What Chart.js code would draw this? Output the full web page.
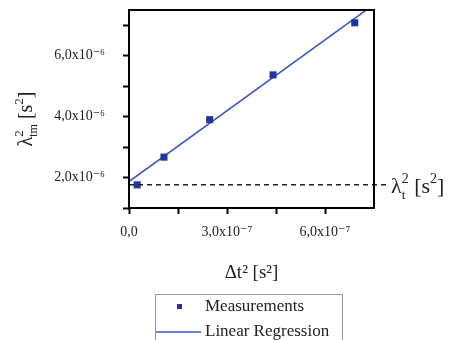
<!DOCTYPE html>
<html>
<head>
<meta charset="utf-8">
<script src="https://cdn.jsdelivr.net/npm/chart.js@4.4.0/dist/chart.umd.min.js"></script>
<style>
  body { margin: 0; background: #fff; }
  canvas { display: block; }
</style>
</head>
<body>
<canvas id="myChart" width="472" height="340"></canvas>
<script>
const measX = [2.5e-8, 1.07e-7, 2.47e-7, 4.41e-7, 6.91e-7];
const measY = [1.76e-6, 2.67e-6, 3.90e-6, 5.37e-6, 7.08e-6];
// regression line end points
const fitX = [0, 7.24e-7];
const fitY = [1.87e-6, 7.48e-6];
// dashed level lambda_t^2
const lambdaT2 = 1.76e-6;

const xTickValues = [0, 1.5e-7, 3e-7, 4.5e-7, 6e-7];
const xTickLabels = ['0,0', '', '3,0x10⁻⁷', '', '6,0x10⁻⁷'];
const yTickValues = [1e-6, 2e-6, 3e-6, 4e-6, 5e-6, 6e-6, 7e-6];
const yTickLabels = ['', '2,0x10⁻⁶', '', '4,0x10⁻⁶', '', '6,0x10⁻⁶', ''];

const FONT = '"Liberation Serif", "DejaVu Serif", serif';
const markColor = '#22359e';
const lineColor = '#4356c4';

function drawRich (ctx, parts, x, y, doDraw) {
  let cx = x, hold = 0;
  parts.forEach((p) => {
    ctx.font = p.size + 'px ' + FONT;
    const w = ctx.measureText(p.text).width;
    if (doDraw) ctx.fillText(p.text, cx, y + (p.dy || 0));
    if (p.stack) {
      hold = Math.max(hold, w);
    } else {
      cx += Math.max(w, hold);
      hold = 0;
    }
  });
  return cx - x;
}

const extras = {
  id: 'extras',
  afterDatasetsDraw (chart) {
    const ctx = chart.ctx;
    const a = chart.chartArea;
    const yS = chart.scales.y;
    ctx.save();
    // dashed lambda_t^2 line, runs past the frame
    const yy = yS.getPixelForValue(lambdaT2);
    ctx.strokeStyle = '#222';
    ctx.lineWidth = 1.5;
    ctx.setLineDash([5, 4]);
    ctx.beginPath();
    ctx.moveTo(a.left, yy);
    ctx.lineTo(a.right + 14, yy);
    ctx.stroke();
    ctx.setLineDash([]);
    // frame
    ctx.strokeStyle = '#000';
    ctx.lineWidth = 2;
    ctx.strokeRect(a.left, a.top, a.right - a.left, a.bottom - a.top);
    ctx.restore();
  },
  afterDraw (chart) {
    const ctx = chart.ctx;
    const a = chart.chartArea;
    const yS = chart.scales.y;
    ctx.save();
    ctx.fillStyle = '#222';
    ctx.textBaseline = 'alphabetic';
    ctx.textAlign = 'left';

    // label at end of dashed line
    const yy = yS.getPixelForValue(lambdaT2);
    drawRich(ctx, [
      { text: 'λ', size: 22 },
      { text: 't', size: 13, dy: 6, stack: true },
      { text: '2', size: 14, dy: -10 },
      { text: ' [s', size: 22 },
      { text: '2', size: 14, dy: -10 },
      { text: ']', size: 22 }
    ], a.right + 17, yy + 8, true);

    // y axis title
    const yParts = [
      { text: 'λ', size: 20 },
      { text: '2', size: 13, dy: -9, stack: true },
      { text: 'tm', size: 12, dy: 5 },
      { text: ' [s', size: 20 },
      { text: '2', size: 13, dy: -9 },
      { text: ']', size: 20 }
    ];
    const w = drawRich(ctx, yParts, 0, 0, false);
    ctx.translate(32, (a.top + a.bottom) / 2 + 10);
    ctx.rotate(-Math.PI / 2);
    drawRich(ctx, yParts, -w / 2, 0, true);
    ctx.restore();

    // legend
    ctx.save();
    const lx = 155, ly = 294;
    ctx.strokeStyle = '#999';
    ctx.lineWidth = 1;
    ctx.strokeRect(lx + 0.5, ly + 0.5, 187, 60);
    ctx.fillStyle = markColor;
    ctx.fillRect(lx + 22, ly + 10, 5, 5);
    ctx.strokeStyle = lineColor;
    ctx.lineWidth = 1.5;
    ctx.beginPath();
    ctx.moveTo(lx + 1, ly + 38);
    ctx.lineTo(lx + 46, ly + 38);
    ctx.stroke();
    ctx.fillStyle = '#222';
    ctx.font = '17px ' + FONT;
    ctx.textBaseline = 'middle';
    ctx.fillText(chart.data.datasets[0].label, lx + 50, ly + 13);
    ctx.fillText(chart.data.datasets[1].label, lx + 50, ly + 38);
    ctx.restore();
  }
};

function init () {
  const ctx = document.getElementById('myChart').getContext('2d');
  new Chart(ctx, {
    type: 'scatter',
    data: {
      datasets: [{
        label: 'Measurements',
        data: measX.map((x, i) => ({ x: x, y: measY[i] })),
        pointStyle: 'rect',
        pointRadius: 5,
        backgroundColor: markColor,
        borderColor: markColor,
        borderWidth: 0
      }, {
        label: 'Linear Regression',
        data: fitX.map((x, i) => ({ x: x, y: fitY[i] })),
        showLine: true,
        pointRadius: 0,
        borderColor: lineColor,
        borderWidth: 1.6,
        fill: false
      }]
    },
    options: {
      responsive: false,
      animation: false,
      layout: { padding: { left: 0, top: 10, right: 98, bottom: 52 } },
      plugins: {
        legend: { display: false },
        tooltip: { enabled: false }
      },
      scales: {
        x: {
          type: 'linear',
          min: 0,
          max: 7.5e-7,
          afterBuildTicks: (s) => { s.ticks = xTickValues.map(v => ({ value: v })); },
          afterFit: (s) => { s.height = 80; s.paddingLeft = 0; s.paddingRight = 0; },
          ticks: {
            autoSkip: false,
            maxRotation: 0,
            padding: 10,
            color: '#222',
            font: { family: FONT, size: 14 },
            callback: (v) => xTickLabels[Math.round(v / 1.5e-7)]
          },
          grid: { drawOnChartArea: false, tickLength: 6, tickWidth: 2, tickColor: '#000' },
          border: { display: false },
          title: {
            display: true,
            text: 'Δt² [s²]',
            color: '#222',
            font: { family: FONT, size: 19 },
            padding: { top: 8 }
          }
        },
        y: {
          type: 'linear',
          min: 1e-6,
          max: 7.5e-6,
          afterBuildTicks: (s) => { s.ticks = yTickValues.map(v => ({ value: v })); },
          afterFit: (s) => { s.width = 129; s.paddingTop = 0; s.paddingBottom = 0; },
          ticks: {
            autoSkip: false,
            padding: 18,
            color: '#222',
            font: { family: FONT, size: 14 },
            callback: (v) => yTickLabels[Math.round(v * 1e6) - 1]
          },
          grid: { drawOnChartArea: false, tickLength: 6, tickWidth: 2, tickColor: '#000' },
          border: { display: false }
        }
      }
    },
    plugins: [extras]
  });
}

init();
</script>
</body>
</html>
